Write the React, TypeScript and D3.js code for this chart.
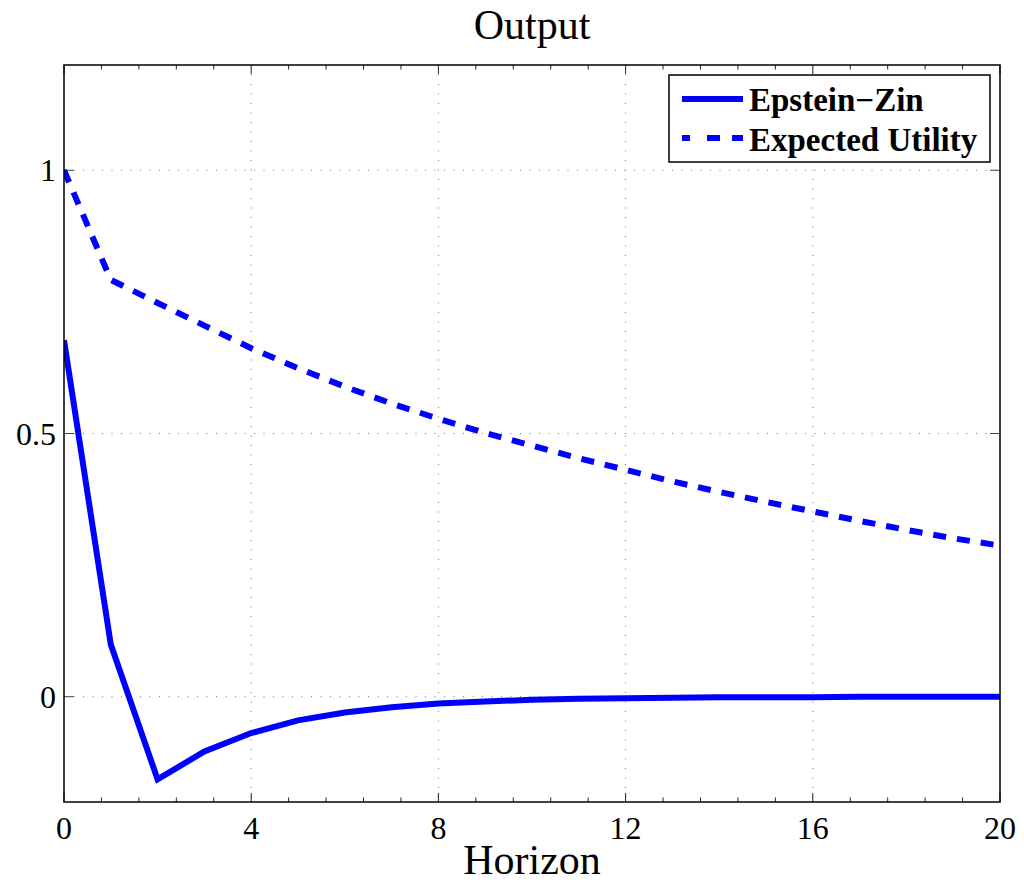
import React from "react";
import * as d3 from "d3";

// impulse responses of output
const horizon = [0, 1, 2, 3, 4, 5, 6, 7, 8, 9, 10, 11, 12, 13, 14, 15, 16, 17, 18, 19, 20];
const epsteinZin = [0.677, 0.099, -0.157, -0.104, -0.069, -0.045, -0.03, -0.02, -0.013, -0.009, -0.006,
  -0.004, -0.003, -0.002, -0.001, -0.001, -0.001, 0, 0, 0, 0];
const expectedUtility = [1.0, 0.792, 0.748, 0.705, 0.662, 0.624, 0.589, 0.557, 0.528, 0.501, 0.477,
  0.453, 0.431, 0.409, 0.389, 0.37, 0.352, 0.334, 0.317, 0.301, 0.287];

const xTicks = [0, 4, 8, 12, 16, 20];
const xMinorTicks = [0.8, 1.6, 2.4, 3.2, 4.8, 5.6, 6.4, 7.2, 8.8, 9.6, 10.4, 11.2, 12.8, 13.6, 14.4, 15.2,
  16.8, 17.6, 18.4, 19.2];
const yTicks = [0, 0.5, 1];
const yTickLabels = ["0", "0.5", "1"];
const seriesNames = ["Epstein\u2212Zin", "Expected Utility"];

const W = 1024;
const H = 882;
const margin = { top: 65, right: 24, bottom: 80, left: 64 };
const font = "'Liberation Serif', 'Times New Roman', serif";
const blue = "#0000ff";

const App = () => {
  const x = d3.scaleLinear().domain([0, 20]).range([margin.left, W - margin.right]);
  const y = d3.scaleLinear().domain([-0.2, 1.2]).range([H - margin.bottom, margin.top]);
  const x0 = x.range()[0], x1 = x.range()[1];
  const y0 = y.range()[0], y1 = y.range()[1];

  const line = d3
    .line<number>()
    .x((_, i) => x(horizon[i]))
    .y((d) => y(d));

  const grid = "#777";

  return (
    <svg width={W} height={H} style={{ position: "absolute", left: 0, top: 0, background: "#fff" }}>
      <defs>
        <clipPath id="plot">
          <rect x={x0} y={y1} width={x1 - x0} height={y0 - y1} />
        </clipPath>
      </defs>
      <rect x={0} y={0} width={W} height={H} fill="#fff" />

      {/* grid */}
      {xTicks.slice(1, -1).map((t) => (
        <line key={"gx" + t} x1={x(t)} x2={x(t)} y1={y1} y2={y0} stroke={grid} strokeWidth={1}
          strokeDasharray="1 8.5" />
      ))}
      {yTicks.map((t) => (
        <line key={"gy" + t} x1={x0} x2={x1} y1={y(t)} y2={y(t)} stroke={grid} strokeWidth={1}
          strokeDasharray="1 8.5" />
      ))}

      {/* ticks */}
      {xTicks.map((t) => (
        <g key={"tx" + t} stroke="#222" strokeWidth={1}>
          <line x1={x(t)} x2={x(t)} y1={y0} y2={y0 - 9} />
          <line x1={x(t)} x2={x(t)} y1={y1} y2={y1 + 9} />
        </g>
      ))}
      {xMinorTicks.map((t) => (
        <g key={"mx" + t} stroke="#222" strokeWidth={1}>
          <line x1={x(t)} x2={x(t)} y1={y0} y2={y0 - 4.5} />
          <line x1={x(t)} x2={x(t)} y1={y1} y2={y1 + 4.5} />
        </g>
      ))}
      {yTicks.map((t) => (
        <g key={"ty" + t} stroke="#444" strokeWidth={1}>
          <line x1={x0} x2={x0 + 10} y1={y(t)} y2={y(t)} />
          <line x1={x1} x2={x1 - 10} y1={y(t)} y2={y(t)} />
        </g>
      ))}

      {/* series */}
      <g clipPath="url(#plot)" fill="none" stroke={blue} strokeWidth={6}>
        <path d={line(epsteinZin) ?? ""} strokeLinejoin="miter" />
        <path d={line(expectedUtility) ?? ""} strokeDasharray="13 11" />
      </g>

      {/* axes box */}
      <rect x={x0} y={y1} width={x1 - x0} height={y0 - y1} fill="none" stroke="#000" strokeWidth={1.5} />

      {/* tick labels */}
      {xTicks.map((t) => (
        <text key={"lx" + t} x={x(t)} y={y0 + 37} textAnchor="middle" fontFamily={font} fontSize={32}>
          {t}
        </text>
      ))}
      {yTicks.map((t, i) => (
        <text key={"ly" + t} x={x0 - 8} y={y(t) + 11} textAnchor="end" fontFamily={font} fontSize={32}>
          {yTickLabels[i]}
        </text>
      ))}

      {/* titles */}
      <text x={(x0 + x1) / 2} y={39} textAnchor="middle" fontFamily={font} fontSize={42}>
        Output
      </text>
      <text x={(x0 + x1) / 2} y={874} textAnchor="middle" fontFamily={font} fontSize={42}>
        Horizon
      </text>

      {/* legend */}
      <g>
        <rect x={669} y={75} width={321} height={87} fill="#fff" stroke="#000" strokeWidth={1.5} />
        <line x1={682} x2={743} y1={99} y2={99} stroke={blue} strokeWidth={6} />
        <line x1={682} x2={743} y1={138} y2={138} stroke={blue} strokeWidth={6}
          strokeDasharray="8 17 13 12 12" />
        <text x={749} y={111} fontFamily={font} fontSize={33} fontWeight="bold">
          {seriesNames[0]}
        </text>
        <text x={749} y={151} fontFamily={font} fontSize={33} fontWeight="bold">
          {seriesNames[1]}
        </text>
      </g>
    </svg>
  );
};

export default App;
